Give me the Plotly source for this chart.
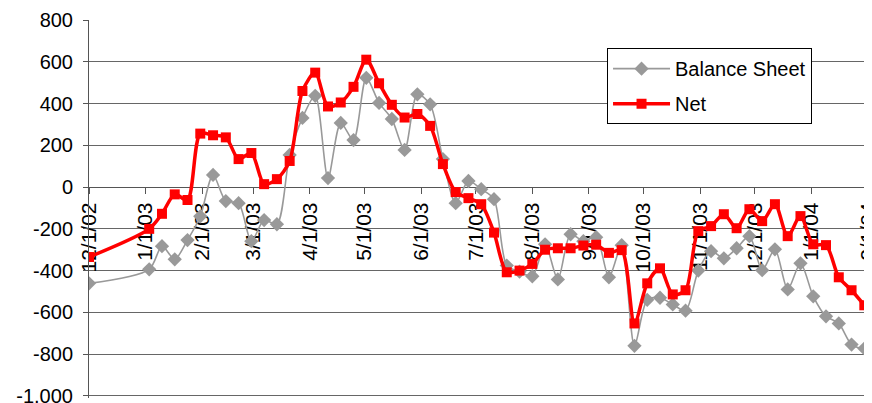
import plotly.graph_objects as go

dates = [
    "2002-12-01",
    "2003-01-03", "2003-01-10", "2003-01-17", "2003-01-24", "2003-01-31",
    "2003-02-07", "2003-02-14", "2003-02-21", "2003-02-28",
    "2003-03-07", "2003-03-14", "2003-03-21", "2003-03-28",
    "2003-04-04", "2003-04-11", "2003-04-18", "2003-04-25",
    "2003-05-02", "2003-05-09", "2003-05-16", "2003-05-23", "2003-05-30",
    "2003-06-06", "2003-06-13", "2003-06-20", "2003-06-27",
    "2003-07-04", "2003-07-11", "2003-07-18", "2003-07-25",
    "2003-08-01", "2003-08-08", "2003-08-15", "2003-08-22", "2003-08-29",
    "2003-09-05", "2003-09-12", "2003-09-19", "2003-09-26",
    "2003-10-03", "2003-10-10", "2003-10-17", "2003-10-24", "2003-10-31",
    "2003-11-07", "2003-11-14", "2003-11-21", "2003-11-28",
    "2003-12-05", "2003-12-12", "2003-12-19", "2003-12-26",
    "2004-01-02", "2004-01-09", "2004-01-16", "2004-01-23", "2004-01-30",
    "2004-02-06",
]

balance_sheet = [
    -461,
    -394, -283, -346, -254, -140,
    58, -67, -77, -259,
    -158, -178, 154, 331,
    437, 43, 307, 225,
    523, 403, 326, 178, 444,
    396, 134, -77, 29,
    -10, -58, -376, -405,
    -427, -274, -442, -226, -259,
    -240, -432, -278, -760,
    -540, -530, -562, -592, -400,
    -307, -341, -293, -235,
    -398, -298, -490, -365,
    -523, -619, -653, -754, -773,
    -740,
]

net = [
    -335,
    -200, -128, -35, -62, 256,
    248, 238, 134, 163,
    14, 38, 125, 460,
    548, 386, 405, 480,
    610, 497, 394, 333, 350,
    293, 110, -24, -53,
    -82, -218, -408, -400,
    -368, -300, -293, -293, -280,
    -276, -315, -302, -653,
    -461, -389, -514, -494, -211,
    -187, -130, -197, -106,
    -163, -82, -235, -139,
    -274, -278, -432, -494, -566,
    -640,
]

x_tick_vals = ["2002-12-01", "2003-01-01", "2003-02-01", "2003-03-01", "2003-04-01",
               "2003-05-01", "2003-06-01", "2003-07-01", "2003-08-01", "2003-09-01",
               "2003-10-01", "2003-11-01", "2003-12-01", "2004-01-01", "2004-02-01"]
x_tick_text = ["12/1/02", "1/1/03", "2/1/03", "3/1/03", "4/1/03", "5/1/03", "6/1/03",
               "7/1/03", "8/1/03", "9/1/03", "10/1/03", "11/1/03", "12/1/03",
               "1/1/04", "2/1/04"]
y_tick_vals = [-1000, -800, -600, -400, -200, 0, 200, 400, 600, 800]
y_tick_text = ["-1,000", "-800", "-600", "-400", "-200", "0", "200", "400", "600", "800"]

Y_MIN, Y_MAX = -1010, 800

fig = go.Figure()
fig.add_trace(go.Scatter(
    x=dates, y=balance_sheet, name="Balance Sheet", mode="lines+markers",
    line=dict(color="#999999", width=1.6, shape="spline", smoothing=0.8),
    marker=dict(symbol="diamond", size=11, color="#999999"),
    legendgroup="a",
))
fig.add_trace(go.Scatter(
    x=dates, y=net, name="Net", mode="lines+markers",
    line=dict(color="#ff0000", width=3.5, shape="spline", smoothing=0.8),
    marker=dict(symbol="square", size=10, color="#ff0000"),
    legendgroup="b",
))

# the page body has an 8px margin, so the figure is 8px smaller and margins shifted
fig.update_layout(
    width=864, height=395,
    margin=dict(l=81, r=0, t=12, b=5, autoexpand=False),
    paper_bgcolor="white", plot_bgcolor="white",
    font=dict(family="Liberation Sans, Arial, sans-serif", size=20, color="black"),
    showlegend=True,
    legend=dict(
        x=0.6616, y=0.9255, xanchor="left", yanchor="top",
        bgcolor="white", bordercolor="black", borderwidth=1,
        font=dict(size=20), tracegroupgap=6, traceorder="grouped",
        itemwidth=57,
    ),
    xaxis=dict(
        type="date",
        range=["2002-12-01", "2004-02-03 05:00"],
        tickvals=x_tick_vals, ticktext=x_tick_text, tickangle=-90,
        anchor="free", position=-Y_MIN / (Y_MAX - Y_MIN), side="bottom",
        showline=True, linecolor="#555555", linewidth=1,
        ticks="outside", ticklen=6, tickcolor="#555555",
        showgrid=False, zeroline=False, layer="below traces",
        tickfont=dict(size=21), automargin=False,
        ticklabeloverflow="allow",
    ),
    yaxis=dict(
        range=[Y_MIN, Y_MAX], tickvals=y_tick_vals, ticktext=y_tick_text,
        showline=True, linecolor="#555555", linewidth=1,
        ticks="outside", ticklen=5, tickcolor="#555555",
        showgrid=True, gridcolor="#666666", gridwidth=1,
        zeroline=False, ticklabelstandoff=6, automargin=False,
        tickfont=dict(size=20), ticklabeloverflow="allow",
    ),
)

fig.write_html("out.html")
